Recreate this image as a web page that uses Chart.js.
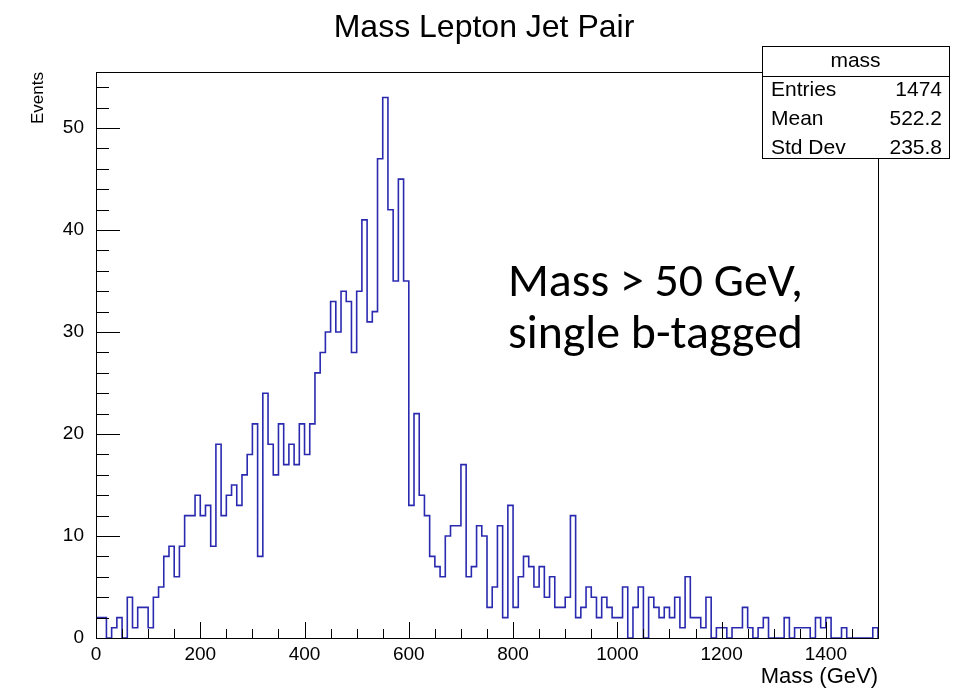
<!DOCTYPE html>
<html>
<head>
<meta charset="utf-8">
<script src="https://cdn.jsdelivr.net/npm/chart.js@4.4.1/dist/chart.umd.min.js"></script>
<style>
  html, body { margin: 0; padding: 0; background: #fff; }
  #wrap { width: 974px; height: 690px; }
</style>
</head>
<body>
<div id="wrap"><canvas id="massChart" width="974" height="690"></canvas></div>
<script>
// Mass Lepton Jet Pair histogram (10 GeV bins, 0 - 1500 GeV)

const binWidth = 10;
const massRange = [0, 1500];
const counts = [
    2, 2, 0, 1, 2, 0, 4, 1, 3, 3,
    1, 4, 5, 8, 9, 6, 9, 12, 12, 14,
    12, 13, 9, 19, 12, 14, 15, 13, 16, 18,
    21, 8, 24, 19, 16, 21, 17, 19, 17, 21,
    18, 21, 26, 28, 30, 33, 30, 34, 33, 28,
    34, 41, 31, 32, 47, 53, 42, 35, 45, 35,
    13, 22, 14, 12, 8, 7, 6, 10, 11, 11,
    17, 6, 7, 11, 10, 3, 5, 11, 2, 13,
    3, 6, 8, 7, 5, 7, 4, 6, 3, 3,
    4, 12, 2, 3, 5, 4, 2, 4, 3, 2,
    2, 5, 0, 3, 5, 0, 4, 3, 2, 3,
    2, 4, 1, 6, 2, 2, 1, 4, 0, 1,
    1, 0, 1, 1, 3, 1, 0, 1, 2, 0,
    0, 0, 2, 0, 1, 1, 1, 0, 2, 1,
    2, 0, 0, 1, 0, 0, 0, 0, 0, 1
];
const yRange = [0, 55.5];
const xLabelStep = 200;
const xMinorStep = 50;
const yLabelStep = 10;
const yMinorStep = 2;

const statsTitle = 'mass';
const statsNames = ['Entries', 'Mean', 'Std Dev'];
const statsValues = ['1474', '522.2', '235.8'];
const noteLines = ['Mass > 50 GeV,', 'single b-tagged'];

const rootFont = "'Liberation Sans', Arial, Helvetica, sans-serif";
const lineBlue = '#2a2ab0';

// step outline of the histogram, one point per bin low edge
const outline = [{ x: massRange[0], y: 0 }];
counts.forEach((c, i) => outline.push({ x: massRange[0] + i * binWidth, y: c }));
outline.push({ x: massRange[1], y: counts[counts.length - 1] });
outline.push({ x: massRange[1], y: 0 });

const line = (ctx, x1, y1, x2, y2) => {
    ctx.beginPath();
    ctx.moveTo(x1, y1);
    ctx.lineTo(x2, y2);
    ctx.stroke();
};

// frame, inside tick marks, stats box, title and the overlay note
const rootDecor = {
    id: 'rootDecor',
    afterDraw(chart) {
        const ctx = chart.ctx;
        const a = chart.chartArea;
        const xs = chart.scales.x;
        const ys = chart.scales.y;
        ctx.save();
        ctx.strokeStyle = '#000';
        ctx.lineWidth = 1;

        ctx.strokeRect(a.left + 0.5, a.top + 0.5, a.right - a.left, a.bottom - a.top);

        for (let v = massRange[0]; v < massRange[1]; v += xMinorStep) {
            const px = Math.round(xs.getPixelForValue(v)) + 0.5;
            const len = v % xLabelStep === 0 ? 16 : 9;
            line(ctx, px, a.bottom, px, a.bottom - len);
        }
        for (let v = yRange[0]; v <= yRange[1]; v += yMinorStep) {
            const py = Math.round(ys.getPixelForValue(v)) + 0.5;
            const len = v % yLabelStep === 0 ? 24 : 13;
            line(ctx, a.left, py, a.left + len, py);
        }

        // title
        ctx.fillStyle = '#000';
        ctx.font = `32px ${rootFont}`;
        ctx.textAlign = 'center';
        ctx.textBaseline = 'middle';
        ctx.fillText('Mass Lepton Jet Pair', 484, 28);

        // stats box
        const bx = 762, by = 46, bw = 187, bh = 112;
        ctx.fillStyle = '#fff';
        ctx.fillRect(bx, by, bw, bh);
        ctx.strokeRect(bx + 0.5, by + 0.5, bw, bh);
        line(ctx, bx, by + 30.5, bx + bw, by + 30.5);
        ctx.fillStyle = '#000';
        ctx.font = `21px ${rootFont}`;
        ctx.textAlign = 'center';
        ctx.fillText(statsTitle, bx + bw / 2, by + 15);
        statsNames.forEach((name, i) => {
            const ty = by + 44 + i * 29;
            ctx.textAlign = 'left';
            ctx.fillText(name, bx + 9, ty);
            ctx.textAlign = 'right';
            ctx.fillText(statsValues[i], bx + bw - 7, ty);
        });

        // overlay note
        const noteFont = "Carlito, Calibri, 'Open Sans', sans-serif";
        ctx.font = `46px ${noteFont}`;
        const size = 46 * 295 / ctx.measureText(noteLines[0]).width;
        ctx.font = `${size}px ${noteFont}`;
        ctx.textAlign = 'left';
        ctx.textBaseline = 'alphabetic';
        noteLines.forEach((t, i) => ctx.fillText(t, 508, 296 + i * 52));

        ctx.restore();
    }
};

Chart.defaults.font.family = rootFont;
Chart.defaults.color = '#000';

new Chart(document.getElementById('massChart').getContext('2d'), {
    type: 'line',
    data: {
        datasets: [{
            data: outline,
            stepped: 'before',
            borderColor: lineBlue,
            borderWidth: 1.6,
            pointRadius: 0,
            fill: false
        }]
    },
    options: {
        responsive: false,
        animation: false,
        layout: { padding: { top: 72, right: 96, left: 0, bottom: 0 } },
        plugins: {
            legend: { display: false },
            tooltip: { enabled: false }
        },
        scales: {
            x: {
                type: 'linear',
                min: massRange[0],
                max: massRange[1],
                grid: { display: false, drawTicks: false },
                border: { display: false },
                ticks: {
                    stepSize: xLabelStep,
                    includeBounds: false,
                    font: { size: 19 },
                    padding: 5,
                    maxRotation: 0,
                    callback: (v) => String(v)
                },
                title: { display: true, text: 'Mass (GeV)', align: 'end', font: { size: 22 }, padding: 0 },
                afterFit: (scale) => { scale.height = 52; }
            },
            y: {
                min: yRange[0],
                max: yRange[1],
                grid: { display: false, drawTicks: false },
                border: { display: false },
                ticks: { stepSize: yLabelStep, includeBounds: false, font: { size: 19 }, padding: 12 },
                title: { display: true, text: 'Events', align: 'end', font: { size: 17 }, padding: { top: 28, bottom: 0 } },
                afterFit: (scale) => { scale.width = 96; }
            }
        }
    },
    plugins: [rootDecor]
});
</script>
</body>
</html>
